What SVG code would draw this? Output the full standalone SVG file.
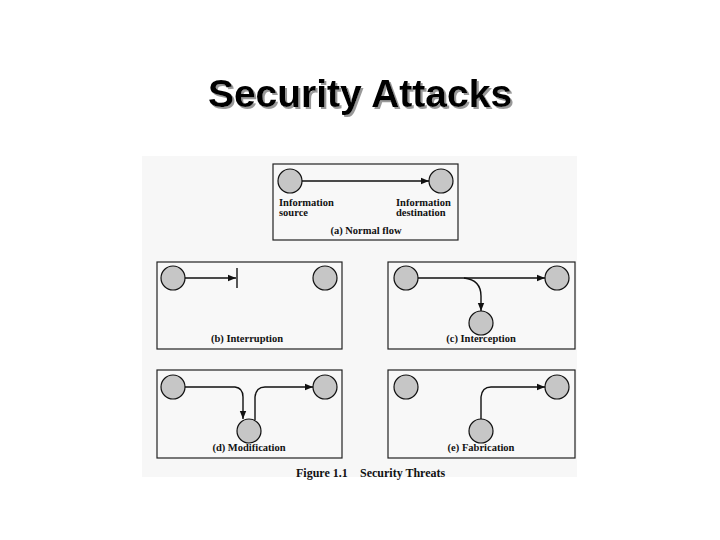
<svg xmlns="http://www.w3.org/2000/svg" width="720" height="540" viewBox="0 0 720 540">
<defs>
<marker id="ah" viewBox="0 0 10 10" refX="10" refY="5" markerWidth="8" markerHeight="8" markerUnits="userSpaceOnUse" orient="auto">
<path d="M0,1 L10,5 L0,9 Z" fill="#111"/>
</marker>
<filter id="shadow" x="-5%" y="-20%" width="110%" height="140%">
<feDropShadow dx="2" dy="2" stdDeviation="0.6" flood-color="#999" flood-opacity="1"/>
</filter>
</defs>
<style>
.title{font-family:"Liberation Sans",Arial,sans-serif;font-weight:bold;font-size:39px}
.lbl{font-family:"Liberation Serif","Times New Roman",serif;font-weight:bold;font-size:10.5px;fill:#111}
.cap{font-family:"Liberation Serif","Times New Roman",serif;font-weight:bold;font-size:12px;fill:#111}
.box{fill:#f8f8f8;stroke:#222;stroke-width:1.2}
.nd{fill:#c6c6c6;stroke:#111;stroke-width:1.2}
.ln{fill:none;stroke:#111;stroke-width:1.4}
</style>
<rect width="720" height="540" fill="#fff"/>
<text class="title" x="360" y="107" text-anchor="middle" fill="#000" filter="url(#shadow)">Security Attacks</text>
<rect x="142" y="156" width="435" height="321" fill="#f7f7f7"/>

<g id="panel-a">
<rect class="box" x="273" y="164" width="185" height="76"/>
<text class="lbl" x="279" y="206">Information</text>
<text class="lbl" x="279" y="216">source</text>
<text class="lbl" x="396" y="206">Information</text>
<text class="lbl" x="396" y="216">destination</text>
<text class="lbl" x="366" y="234" text-anchor="middle">(a) Normal flow</text>
</g>
<g id="a-src"><circle class="nd" cx="290" cy="181" r="12"/></g>
<g id="a-dst"><circle class="nd" cx="441" cy="181" r="12"/></g>

<g id="panel-b">
<rect class="box" x="157" y="262" width="185" height="87"/>
<text class="lbl" x="247" y="342" text-anchor="middle">(b) Interruption</text>
</g>
<g id="b-src"><circle class="nd" cx="173" cy="278" r="12"/></g>
<g id="b-dst"><circle class="nd" cx="325" cy="278" r="12"/></g>

<g id="panel-c">
<rect class="box" x="388" y="262" width="187" height="87"/>
<text class="lbl" x="481" y="342" text-anchor="middle">(c) Interception</text>
</g>
<g id="c-src"><circle class="nd" cx="406" cy="278" r="12"/></g>
<g id="c-dst"><circle class="nd" cx="557" cy="278" r="12"/></g>
<g id="c-int"><circle class="nd" cx="481" cy="323" r="12"/></g>

<g id="panel-d">
<rect class="box" x="157" y="370" width="185" height="88"/>
<text class="lbl" x="249" y="451" text-anchor="middle">(d) Modification</text>
</g>
<g id="d-src"><circle class="nd" cx="173" cy="387" r="12"/></g>
<g id="d-dst"><circle class="nd" cx="325" cy="387" r="12"/></g>
<g id="d-mod"><circle class="nd" cx="249" cy="431" r="12"/></g>

<g id="panel-e">
<rect class="box" x="388" y="370" width="187" height="88"/>
<text class="lbl" x="481" y="451" text-anchor="middle">(e) Fabrication</text>
</g>
<g id="e-src"><circle class="nd" cx="406" cy="387" r="12"/></g>
<g id="e-dst"><circle class="nd" cx="557" cy="387" r="12"/></g>
<g id="e-fab"><circle class="nd" cx="481" cy="431" r="12"/></g>

<g id="caption">
<text class="cap" x="296" y="477">Figure 1.1</text>
<text class="cap" x="360" y="477">Security Threats</text>
</g>

<g id="connectors">
<path class="ln" d="M302,181 L429,181" marker-end="url(#ah)"/>
<path class="ln" d="M185,278 L236,278" marker-end="url(#ah)"/>
<path class="ln" d="M237,268 L237,288" stroke-width="2"/>
<path class="ln" d="M418,278 L545,278" marker-end="url(#ah)"/>
<path class="ln" d="M464,278 Q481,280 481,296 L481,311" marker-end="url(#ah)"/>
<path class="ln" d="M185,387 L235,387 Q243,388 243,397 L243,419" marker-end="url(#ah)"/>
<path class="ln" d="M255,420 L255,397 Q256,387 265,387 L313,387" marker-end="url(#ah)"/>
<path class="ln" d="M481,419 L481,397 Q482,387 491,387 L545,387" marker-end="url(#ah)"/>
</g>
</svg>
